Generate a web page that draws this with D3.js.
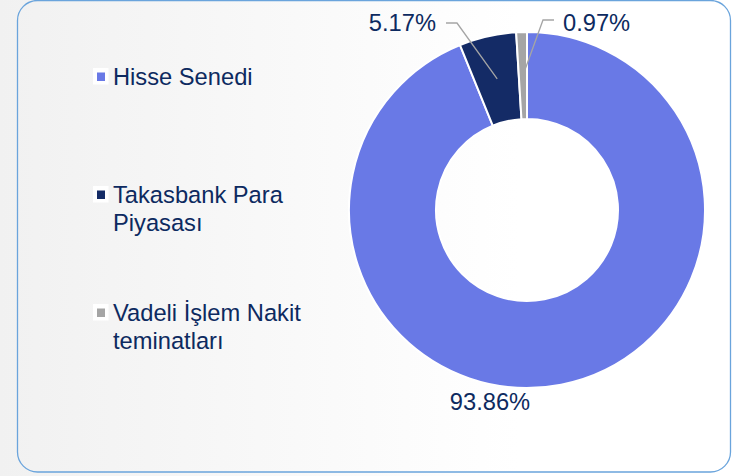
<!DOCTYPE html>
<html>
<head>
<meta charset="utf-8">
<script src="https://cdn.jsdelivr.net/npm/d3@7"></script>
<style>
  body { margin: 0; }
  svg { display: block; }
</style>
</head>
<body>
<script>
var w = 740;
var h = 476;

// data
var categories = ["Hisse Senedi", "Takasbank Para Piyasası", "Vadeli İşlem Nakit teminatları"];
var legendLines = [["Hisse Senedi"], ["Takasbank Para", "Piyasası"], ["Vadeli İşlem Nakit", "teminatları"]];
var shares = [93.86, 5.17, 0.97];
var shareLabels = ["93.86%", "5.17%", "0.97%"];

var colors = ["#6979e6", "#142b66", "#a5a5a5"];
var textColor = "#0d2a60";
var font = "'Liberation Sans', Arial, sans-serif";

var cx = 527, cy = 210;
var outerR = 178, innerR = 91;

var svg = d3.select("body").append("svg")
  .attr("width", w)
  .attr("height", h);

var defs = svg.append("defs");
var grad = defs.append("linearGradient")
  .attr("id", "bg")
  .attr("x1", "0").attr("x2", "1").attr("y1", "0").attr("y2", "0");
grad.append("stop").attr("offset", "0").attr("stop-color", "#f1f1f1");
grad.append("stop").attr("offset", "0.7").attr("stop-color", "#ffffff");
grad.append("stop").attr("offset", "1").attr("stop-color", "#ffffff");

svg.append("rect")
  .attr("width", w).attr("height", h)
  .attr("fill", "url(#bg)");

// frame
svg.append("rect")
  .attr("x", 17.5).attr("y", 0.5)
  .attr("width", 713).attr("height", 471.5)
  .attr("rx", 20).attr("ry", 20)
  .attr("fill", "none")
  .attr("stroke", "#6aa4dc")
  .attr("stroke-width", 1.3);

var pie = d3.pie().sort(null).value(function(d){ return d; });
var arcs = pie(shares);
var arc = d3.arc().innerRadius(innerR).outerRadius(outerR);

var g = svg.append("g").attr("transform", "translate(" + cx + "," + cy + ")");

g.selectAll("path.slice")
  .data(arcs)
  .join("path")
  .attr("class", "slice")
  .attr("d", arc)
  .attr("fill", function(d, i){ return colors[i]; })
  .attr("stroke", "#ffffff")
  .attr("stroke-width", 2)
  .attr("stroke-linejoin", "round");

// label layout (offsets from donut center): elbow of leader, end of leader, text anchor
var labelLayout = [
  { leader: false, tx: -37, ty: outerR + 22, anchor: "middle" },
  { leader: true, elbow: [-70, -187], end: [-81, -187], tx: -91, ty: -179, anchor: "end" },
  { leader: true, elbow: [16, -190], end: [27, -190], tx: 36, ty: -179, anchor: "start" }
];

arcs.forEach(function(d, i){
  var L = labelLayout[i];
  if (L.leader) {
    var c = arc.centroid(d);
    g.append("polyline")
      .attr("points", [c, L.elbow, L.end].map(function(p){ return p.join(","); }).join(" "))
      .attr("fill", "none")
      .attr("stroke", "#a5a5a5")
      .attr("stroke-width", 1.3);
  }
  g.append("text")
    .attr("x", L.tx)
    .attr("y", L.ty)
    .attr("text-anchor", L.anchor)
    .attr("font-family", font)
    .attr("font-size", "23.7px")
    .attr("fill", textColor)
    .text(shareLabels[i]);
});

// legend
var legendY = d3.scalePoint()
  .domain(categories)
  .range([85, 321]);

var lg = svg.selectAll("g.legend")
  .data(categories)
  .join("g")
  .attr("class", "legend")
  .attr("transform", function(d){ return "translate(0," + legendY(d) + ")"; });

lg.append("rect")
  .attr("x", 93).attr("y", -17)
  .attr("width", 15.5).attr("height", 16.5)
  .attr("fill", "#ffffff");

lg.append("rect")
  .attr("x", 97).attr("y", -12.5)
  .attr("width", 8).attr("height", 8.5)
  .attr("fill", function(d, i){ return colors[i]; });

lg.append("text")
  .attr("x", 113)
  .attr("y", 0)
  .attr("font-family", font)
  .attr("font-size", "23.7px")
  .attr("fill", textColor)
  .selectAll("tspan")
  .data(function(d, i){ return legendLines[i]; })
  .join("tspan")
  .attr("x", 113)
  .attr("dy", function(d, j){ return j === 0 ? 0 : 27.5; })
  .text(function(d){ return d; });
</script>
</body>
</html>
